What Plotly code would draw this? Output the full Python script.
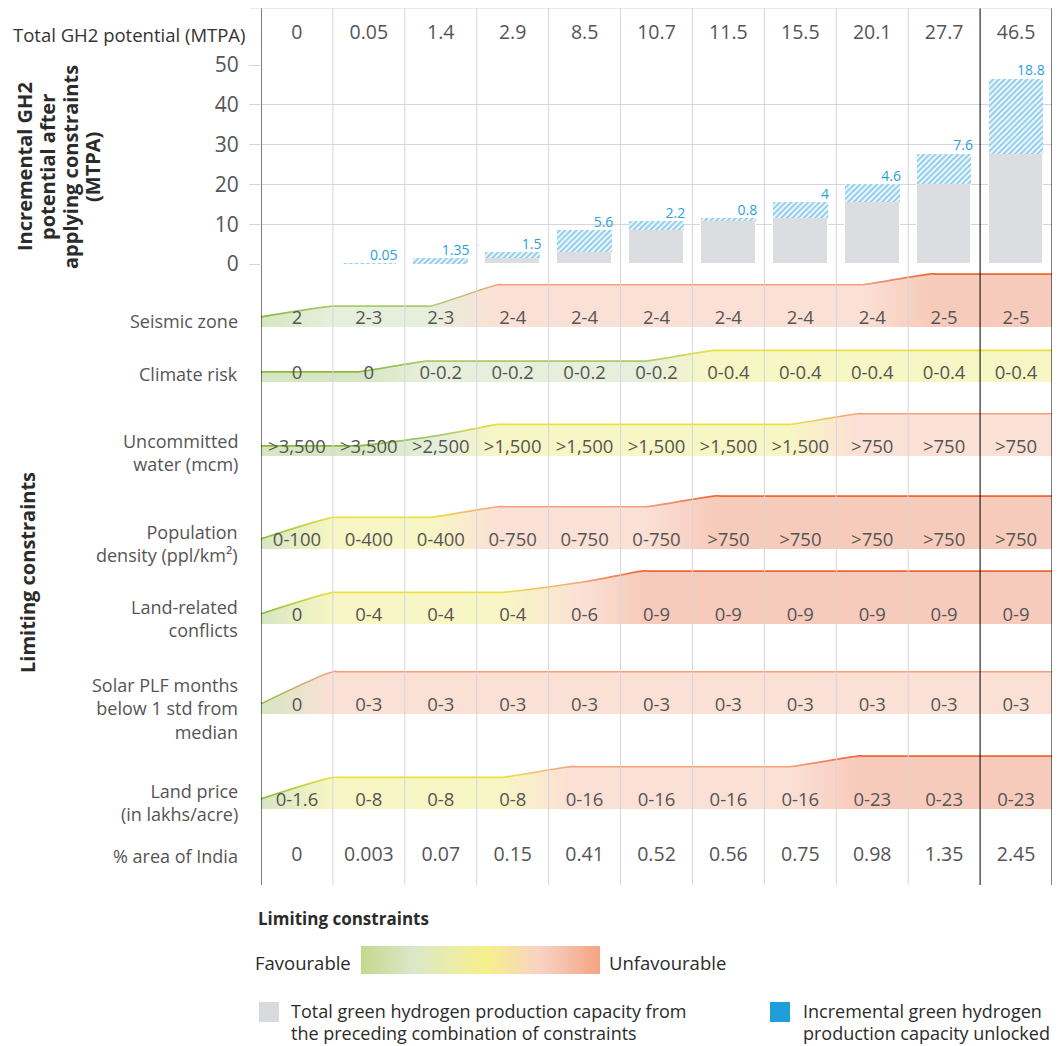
import plotly.graph_objects as go

# ---- data ----
total_potential = [0, 0.05, 1.4, 2.9, 8.5, 10.7, 11.5, 15.5, 20.1, 27.7, 46.5]
incremental = [0, 0.05, 1.35, 1.5, 5.6, 2.2, 0.8, 4, 4.6, 7.6, 18.8]
area_share = ['0', '0.003', '0.07', '0.15', '0.41', '0.52', '0.56', '0.75', '0.98', '1.35', '2.45']

constraint_names = [
    'Seismic zone',
    'Climate risk',
    'Uncommitted<br>water (mcm)',
    'Population<br>density (ppl/km²)',
    'Land-related<br>conflicts',
    'Solar PLF months<br>below 1 std from<br>median',
    'Land price<br>(in lakhs/acre)',
]

seismic_values = ['2', '2-3', '2-3', '2-4', '2-4', '2-4', '2-4', '2-4', '2-4', '2-5', '2-5']
climate_values = ['0', '0', '0-0.2', '0-0.2', '0-0.2', '0-0.2', '0-0.4', '0-0.4', '0-0.4', '0-0.4', '0-0.4']
water_values = ['>3,500', '>3,500', '>2,500', '>1,500', '>1,500', '>1,500', '>1,500', '>1,500', '>750', '>750', '>750']
population_values = ['0-100', '0-400', '0-400', '0-750', '0-750', '0-750', '>750', '>750', '>750', '>750', '>750']
conflict_values = ['0', '0-4', '0-4', '0-4', '0-6', '0-9', '0-9', '0-9', '0-9', '0-9', '0-9']
solar_values = ['0', '0-3', '0-3', '0-3', '0-3', '0-3', '0-3', '0-3', '0-3', '0-3', '0-3']
land_price_values = ['0-1.6', '0-8', '0-8', '0-8', '0-16', '0-16', '0-16', '0-16', '0-23', '0-23', '0-23']

# favourability score per cell: 1 = favourable ... 5 = unfavourable
seismic_scores = [1, 2, 2, 4, 4, 4, 4, 4, 4, 5, 5]
climate_scores = [1, 1, 2, 2, 2, 2, 3, 3, 3, 3, 3]
water_scores = [1, 1, 2, 3, 3, 3, 3, 3, 4, 4, 4]
population_scores = [1, 3, 3, 4, 4, 4, 5, 5, 5, 5, 5]
conflict_scores = [1, 3, 3, 3, 4, 5, 5, 5, 5, 5, 5]
solar_scores = [1, 4, 4, 4, 4, 4, 4, 4, 4, 4, 4]
land_price_scores = [1, 3, 3, 3, 4, 4, 4, 4, 5, 5, 5]

# ---- styling ----
FONT = 'Open Sans'
TEXT = '#555555'
DARK = '#2b2b2b'
GRID = '#d5d5dc'
GREY_BAR = '#dcdde0'
BLUE = '#2a9fd8'
FILL = {1: '#d6e6c2', 2: '#e6efdb', 3: '#f8f6c4', 4: '#fbe0d5', 5: '#f7cbbb'}
EDGE = {1: '#8cbb3c', 2: '#a9cd6c', 3: '#ebe23c', 4: '#f3a07e', 5: '#ee6a3a'}

PAGE = 8                       # browser body margin around the figure
W, H = 1064 - 2 * PAGE, 1046
LEFT, RIGHT = 261, 1052        # plot edges in page pixels
COL_PX = (RIGHT - LEFT) / 11
STEP = 10.7                    # px per favourability step
ROW_BOTTOMS = [327, 382, 456, 549, 624, 714, 809]
LABEL_Y = [321, 374, 452, 543, 618, 708, 802]


def px_x(px):
    return (px - LEFT) / COL_PX - 0.5


def paper_x(px):
    return (px - LEFT) / (RIGHT - LEFT)


def profile(scores, before=0.65, after=0.3, guard=0.08):
    '''knots (x, score) describing the stepped top of a constraint band'''
    pts = [(-0.5, scores[0])]
    for i in range(1, len(scores)):
        if scores[i] == scores[i - 1]:
            continue
        b = i - 0.5
        if i == 1:
            pts += [(0.5, scores[1]), (0.5 + guard, scores[1])]
            continue
        if scores[i - 2] != scores[i - 1]:
            # column i-1 sits in the middle of a longer ramp
            pts = pts[:-2] + [(i - 1, scores[i - 1])]
        else:
            pts += [(b - before - guard, scores[i - 1]), (b - before, scores[i - 1])]
        pts += [(b + after, scores[i]), (b + after + guard, scores[i])]
    pts.append((10.5, scores[-1]))
    return pts


fig = go.Figure()

# ---- bars ----
base = [round(t - d, 2) for t, d in zip(total_potential, incremental)]
cols = list(range(11))
fig.add_trace(go.Bar(x=cols, y=base, width=0.76, marker=dict(color=GREY_BAR, line=dict(color='white', width=1))))
fig.add_trace(go.Bar(x=cols, y=incremental, width=0.76,
                     marker=dict(color='white', line=dict(width=0),
                                 pattern=dict(shape='/', fgcolor='#2aa0dc', bgcolor='white',
                                              size=4, solidity=0.6))))
fig.add_trace(go.Scatter(x=[c + 0.4 for c in cols], y=total_potential, mode='text',
                         text=['' if v == 0 else str(v) for v in incremental],
                         textposition='top left', cliponaxis=False,
                         textfont=dict(family=FONT, size=14, color=BLUE)))

# ---- constraint bands ----
rows = [
    (seismic_values, seismic_scores),
    (climate_values, climate_scores),
    (water_values, water_scores),
    (population_values, population_scores),
    (conflict_values, conflict_scores),
    (solar_values, solar_scores),
    (land_price_values, land_price_scores),
]

for (values, scores), bottom in zip(rows, ROW_BOTTOMS):
    knots = profile(scores)
    kx = [k[0] for k in knots]
    ky = [bottom - k[1] * STEP for k in knots]
    fill_scale = [[(x + 0.5) / 11, FILL[s]] for x, s in knots]
    edge_scale = [[(x + 0.5) / 11, EDGE[s]] for x, s in knots]
    common = dict(xaxis='x', yaxis='y2', mode='lines', hoverinfo='skip')
    fig.add_trace(go.Scatter(x=[-0.5, 10.5], y=[bottom, bottom], line=dict(width=0), **common))
    fig.add_trace(go.Scatter(x=kx, y=ky, line=dict(width=0, shape='spline'), fill='tonexty',
                             fillgradient=dict(type='horizontal', colorscale=fill_scale,
                                               start=-0.5, stop=10.5), **common))
    # thin coloured top edge, drawn as a narrow gradient strip
    fig.add_trace(go.Scatter(x=kx, y=[v + 1.4 for v in ky], line=dict(width=0, shape='spline'), **common))
    fig.add_trace(go.Scatter(x=kx, y=[v - 0.3 for v in ky], line=dict(width=0, shape='spline'), fill='tonexty',
                             fillgradient=dict(type='horizontal', colorscale=edge_scale,
                                               start=-0.5, stop=10.5), **common))

for (values, scores), bottom in zip(rows, ROW_BOTTOMS):
    fig.add_trace(go.Scatter(x=cols, y=[bottom - 7.5] * 11, yaxis='y2', mode='text', text=values,
                             cliponaxis=False, textfont=dict(family=FONT, size=18.5, color=TEXT)))

# header and footer rows
fig.add_trace(go.Scatter(x=cols, y=[34] * 11, yaxis='y2', mode='text', text=[str(v) for v in total_potential],
                         cliponaxis=False, textfont=dict(family=FONT, size=19.5, color=TEXT)))
fig.add_trace(go.Scatter(x=cols, y=[856] * 11, yaxis='y2', mode='text', text=area_share,
                         cliponaxis=False, textfont=dict(family=FONT, size=19.5, color=TEXT)))

# legend gradient bar
lx0, lx1 = px_x(361), px_x(600)
fig.add_trace(go.Scatter(x=[lx0, lx1, lx1, lx0, lx0], y=[946, 946, 974, 974, 946], yaxis='y2',
                         mode='lines', line=dict(width=0), fill='toself', cliponaxis=False,
                         fillgradient=dict(type='horizontal', start=lx0, stop=lx1,
                                           colorscale=[[0, '#c3d98c'], [0.22, '#dbe7c9'], [0.52, '#f6f08c'],
                                                       [0.75, '#f9d2c2'], [1, '#f3a484']])))

# ---- shapes ----
shapes = []
for k in range(12):
    shapes.append(dict(type='line', xref='x', yref='y2', x0=k - 0.5, x1=k - 0.5, y0=8, y1=885, layer='above',
                       line=dict(color='black' if k in (0, 10, 11) else GRID, width=1)))
shapes.append(dict(type='line', xref='paper', yref='y2', x0=paper_x(250), x1=1, y0=8, y1=8,
                   line=dict(color=GRID, width=1)))
shapes.append(dict(type='rect', xref='paper', yref='y2', x0=paper_x(259), x1=paper_x(279), y0=1002, y1=1022,
                   fillcolor='#d9dadd', line=dict(width=0)))
shapes.append(dict(type='rect', xref='paper', yref='y2', x0=paper_x(770), x1=paper_x(790), y0=1002, y1=1022,
                   fillcolor='#1f9ed9', line=dict(width=0)))

# ---- annotations ----
ann = []


def label(text, px, y, anchor='left', size=18.5, color=DARK, **kw):
    ann.append(dict(text=text, xref='paper', x=paper_x(px), xanchor=anchor, yref='y2', y=y, yanchor='middle',
                    showarrow=False, font=dict(family=FONT, size=size, color=color), **kw))


for name, y in zip(constraint_names + ['% area of India'], LABEL_Y + [856]):
    label(name, 240, y, anchor='right', size=18, color=TEXT, align='right')
label('Total GH2 potential (MTPA)', 11, 34, color='#333333')
for line, px in zip(['Incremental GH2', 'potential after', 'applying constraints', '(MTPA)'], [24, 47, 70, 92]):
    label('<b>%s</b>' % line, px, 167, anchor='center', size=20, textangle=-90)
label('<b>Limiting constraints</b>', 27, 573, anchor='center', size=20, textangle=-90)
label('<b>Limiting constraints</b>', 256, 918, size=17)
label('Favourable', 353, 962, anchor='right')
label('Unfavourable', 607, 962)
label('Total green hydrogen production capacity from', 289, 1011, size=18)
label('the preceding combination of constraints', 289, 1033, size=18)
label('Incremental green hydrogen', 801, 1011, size=18)
label('production capacity unlocked', 801, 1033, size=18)

fig.update_layout(
    width=W, height=H,
    margin=dict(l=LEFT - PAGE, r=W + PAGE - RIGHT, t=0, b=0, autoexpand=False),
    paper_bgcolor='white', plot_bgcolor='rgba(0,0,0,0)',
    barmode='stack', bargap=0, showlegend=False,
    font=dict(family=FONT, color=TEXT),
    xaxis=dict(range=[-0.5, 10.5], visible=False, fixedrange=True),
    yaxis=dict(domain=[(H + PAGE - 264) / H, (H + PAGE - 65) / H], range=[0, 50],
               tickvals=[0, 10, 20, 30, 40, 50],
               showgrid=True, gridcolor=GRID, zeroline=False, showline=False,
               ticks='outside', ticklen=11, tickcolor=GRID, ticklabelstandoff=6,
               tickfont=dict(family=FONT, size=21, color=TEXT)),
    yaxis2=dict(domain=[0, 1], range=[H + PAGE, PAGE], anchor='x', visible=False),
    shapes=shapes, annotations=ann,
)

fig.write_html('out.html')
